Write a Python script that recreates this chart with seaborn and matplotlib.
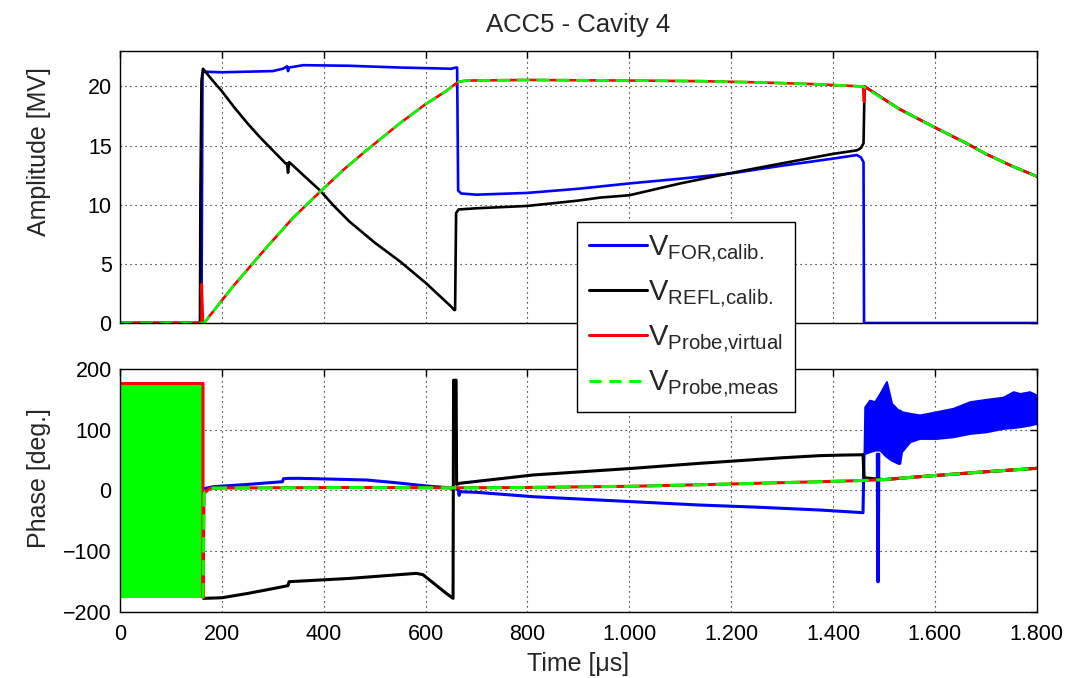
import matplotlib
matplotlib.use("Agg")
import matplotlib.pyplot as plt
import seaborn as sns
from matplotlib.lines import Line2D
from matplotlib.ticker import FuncFormatter, MultipleLocator

# ---------------- data ----------------
# Amplitude [MV]
amp_for_t = [0, 160, 162, 164, 200, 300, 320, 328, 330, 332, 360, 450, 550, 650, 660, 662, 664,
             670, 700, 800, 900, 1000, 1100, 1200, 1300, 1400, 1447, 1455, 1460, 1461, 1800]
amp_for_v = [0, 0, 21.0, 21.25, 21.2, 21.3, 21.5, 21.7, 21.3, 21.6, 21.8, 21.75, 21.6, 21.5, 21.6, 21.6, 11.2,
             10.95, 10.85, 11.0, 11.35, 11.8, 12.2, 12.65, 13.3, 13.9, 14.2, 14.0, 13.6, 0, 0]

amp_refl_t = [0, 157, 158, 160, 163, 180, 200, 225, 250, 275, 300, 325, 328, 330, 332, 340, 360, 393,
              420, 450, 475, 500, 525, 550, 575, 600, 615, 630, 640, 650, 656, 658, 660, 665, 700,
              800, 900, 942, 1000, 1100, 1197, 1300, 1400, 1447, 1455, 1460, 1462, 1530, 1597,
              1662, 1700, 1750, 1800]
amp_refl_v = [0, 0, 11.5, 20.5, 21.5, 20.6, 19.6, 18.2, 16.9, 15.7, 14.6, 13.5, 13.5, 12.7, 13.6, 13.3, 12.5,
              11.2, 9.9, 8.6, 7.7, 6.8, 6.0, 5.2, 4.3, 3.4, 2.8, 2.2, 1.8, 1.4, 1.1, 1.1, 9.3, 9.6, 9.7,
              9.9, 10.35, 10.6, 10.8, 11.8, 12.66, 13.5, 14.3, 14.6, 14.8, 15.2, 20.0, 18.1, 16.6,
              15.2, 14.3, 13.3, 12.4]

amp_probe_t = [0, 165, 222, 288, 340, 393, 440, 484, 550, 600, 640, 655, 665, 680, 800, 1000, 1139,
               1250, 1361, 1459, 1530, 1597, 1662, 1700, 1750, 1800]
amp_probe_v = [0, 0, 3.1, 6.4, 8.9, 11.1, 13.0, 14.6, 16.9, 18.5, 19.6, 20.1, 20.4, 20.5, 20.55, 20.5, 20.45,
               20.35, 20.2, 20.0, 18.1, 16.6, 15.2, 14.3, 13.3, 12.4]
# extra glitches only visible in the virtual probe trace
amp_virt_t = [0, 160, 160.5, 163, 165, 222, 288, 340, 393, 440, 484, 550, 600, 640, 655, 665, 680, 800,
              1000, 1139, 1250, 1361, 1459, 1461, 1462, 1530, 1597, 1662, 1700, 1750, 1800]
amp_virt_v = [0, 0, 3.3, 0, 0, 3.1, 6.4, 8.9, 11.1, 13.0, 14.6, 16.9, 18.5, 19.6, 20.1, 20.4, 20.5, 20.55,
              20.5, 20.45, 20.35, 20.2, 20.0, 18.7, 20.0, 18.1, 16.6, 15.2, 14.3, 13.3, 12.4]

# Phase [deg.]
ph_for_t = [165, 183, 250, 319, 321, 330, 353, 452, 484, 540, 602, 661, 664, 666, 667, 700, 811, 1007,
            1139, 1250, 1374, 1459, 1461]
ph_for_v = [3, 6.3, 10, 14.5, 19.5, 20.0, 20.1, 18.0, 17.3, 13.0, 7.4, 3.6, 2.0, -8.0, -2.0, -3.0, -10.2,
            -18.5, -24.0, -27.5, -32.2, -36.6, 60.0]
# noisy forward phase after the RF pulse: envelope of the band
ph_for_band_t = [1461, 1462.5, 1472, 1482, 1492, 1505, 1515, 1528, 1531, 1534.5, 1551, 1570, 1603, 1636,
                 1669, 1701, 1734, 1754, 1767, 1786, 1800]
ph_for_band_hi = [62, 138, 149, 146.6, 160, 179.6, 143.8, 132.8, 132.8, 130, 127.3, 124.6, 130, 135.6,
                  146.6, 150.4, 154, 163, 160, 163, 157.6]
ph_for_band_lo = [60, 61.3, 64, 66.8, 66.8, 55.8, 50, 44.8, 44.8, 64, 80.6, 86, 86, 88.8, 94.3, 97, 102.6,
                  104, 105.3, 108, 110.8]
ph_for_spike_t = [1487, 1488, 1489, 1490]
ph_for_spike_v = [60, -150.5, -150.5, 60]

ph_refl_t = [164, 200, 250, 300, 320, 330, 332, 452, 582, 595, 641, 654, 655, 660, 661, 667, 811, 1007,
             1139, 1300, 1374, 1420, 1459, 1461, 1500, 1570, 1701, 1800]
ph_refl_v = [-178, -177, -170, -162, -158.7, -157, -150.5, -145, -136.7, -139, -170, -178, 182, 182, 10,
             11.9, 25.6, 36.6, 44.9, 54, 57.5, 58.5, 59, 21, 18, 22.8, 31, 36.6]

ph_probe_t = [163, 165, 177, 300, 450, 654, 800, 1007, 1139, 1374, 1459, 1500, 1570, 1701, 1800]
ph_probe_v = [-178, -5, 4.0, 4.5, 5.0, 4.4, 5.0, 7.0, 9.5, 14.5, 16.5, 18.0, 22.8, 31.0, 36.6]
ph_virt_t = [0, 163, 163] + ph_probe_t[1:]
ph_virt_v = [176.5, 176.5, -176.5] + ph_probe_v[1:]
# wrapped (noisy) measured probe phase before the pulse: envelope
ph_block_t = [0, 164]
ph_block_lo = [-178, -178]
ph_block_hi = [178, 178]

labels = [r"$V_{FOR{,}calib.}$", r"$V_{REFL{,}calib.}$", r"$V_{Probe{,}virtual}$", r"$V_{Probe{,}meas}$"]
colors = ["#0000ff", "#000000", "#ff0000", "#00ff00"]
xticks = list(range(0, 1801, 200))

# ---------------- style ----------------
sns.set_theme(style="white")
plt.rcParams["font.family"] = ["Liberation Sans", "DejaVu Sans"]
plt.rcParams["mathtext.default"] = "regular"
plt.rcParams["axes.edgecolor"] = "black"
plt.rcParams["axes.linewidth"] = 1.0

fig = plt.figure(figsize=(10.81, 6.78), dpi=100)
ax1 = fig.add_axes([0.111, 0.5236, 0.848, 0.4012])
ax2 = fig.add_axes([0.111, 0.0978, 0.848, 0.3575])

lw = 1.9
dash = (0, (5, 2.5))
common = dict(estimator=None, sort=False, legend=False)

# top panel: amplitude
sns.lineplot(x=amp_for_t, y=amp_for_v, ax=ax1, color=colors[0], lw=lw, **common)
sns.lineplot(x=amp_refl_t, y=amp_refl_v, ax=ax1, color=colors[1], lw=lw, **common)
sns.lineplot(x=amp_virt_t, y=amp_virt_v, ax=ax1, color=colors[2], lw=lw, **common)
sns.lineplot(x=amp_probe_t, y=amp_probe_v, ax=ax1, color=colors[3], lw=lw, linestyle=dash, **common)

# bottom panel: phase
ax2.fill_between(ph_for_band_t, ph_for_band_lo, ph_for_band_hi, color=colors[0], lw=1.5,
                 edgecolor=colors[0])
sns.lineplot(x=ph_for_t, y=ph_for_v, ax=ax2, color=colors[0], lw=2.2, **common)
sns.lineplot(x=ph_for_spike_t, y=ph_for_spike_v, ax=ax2, color=colors[0], lw=2.2, **common)
sns.lineplot(x=ph_refl_t, y=ph_refl_v, ax=ax2, color=colors[1], lw=2.2, **common)
sns.lineplot(x=ph_virt_t, y=ph_virt_v, ax=ax2, color=colors[2], lw=2.2, **common)
ax2.fill_between(ph_block_t, ph_block_lo, ph_block_hi, color=colors[3], lw=0)
sns.lineplot(x=ph_probe_t, y=ph_probe_v, ax=ax2, color=colors[3], lw=2.2, linestyle=dash, **common)

fmt = FuncFormatter(lambda v, p: f"{int(round(v)):,}".replace(",", "."))
for ax in (ax1, ax2):
    ax.set_xlim(0, 1800)
    ax.set_xticks(xticks)
    ax.xaxis.set_major_formatter(fmt)
    ax.grid(True, color="black", linestyle=(0, (1, 3.5)), lw=0.8)
    ax.tick_params(direction="in", length=5, width=1, top=True, right=True,
                   labelsize=15.5, colors="black")
    ax.tick_params(axis="y", pad=6)
    ax.tick_params(axis="x", pad=9)
    for s in ax.spines.values():
        s.set_color("black")
        s.set_linewidth(1.0)
    ax.set_facecolor("white")

ax1.set_ylim(0, 23)
ax1.yaxis.set_major_locator(MultipleLocator(5))
ax1.tick_params(labelbottom=False)
ax1.set_xlabel("")
ax1.set_ylabel("Amplitude [MV]", fontsize=18)
ax1.yaxis.set_label_coords(-0.075, 0.63)
ax1.set_title("ACC5 - Cavity 4", fontsize=18.5, pad=14)

ax2.set_ylim(-200, 200)
ax2.yaxis.set_major_locator(MultipleLocator(100))
ax2.set_ylabel("Phase [deg.]", fontsize=18)
ax2.yaxis.set_label_coords(-0.075, 0.55)
ax2.set_xlabel("Time [μs]", fontsize=18)
ax2.xaxis.set_label_coords(0.5, -0.165)

handles = [Line2D([0], [0], color=colors[0], lw=2.2),
           Line2D([0], [0], color=colors[1], lw=2.2),
           Line2D([0], [0], color=colors[2], lw=2.2),
           Line2D([0], [0], color=colors[3], lw=2.2, linestyle=(0, (4, 2.5)))]
leg = fig.legend(handles, labels, loc="upper left", bbox_to_anchor=(0.5338, 0.673),
                 fontsize=21, frameon=True, fancybox=False, edgecolor="black", framealpha=1,
                 borderaxespad=0, handlelength=2.0, handletextpad=0.05, labelspacing=0.475,
                 borderpad=0.4)
leg.get_frame().set_linewidth(1.0)

fig.savefig("out.png", dpi=100, facecolor="white")
